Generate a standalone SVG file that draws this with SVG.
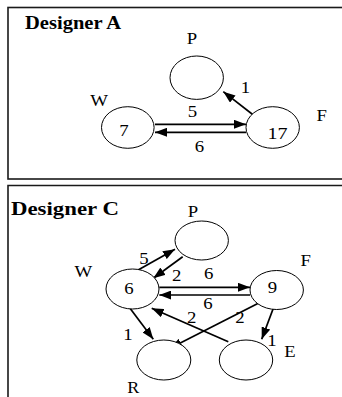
<svg xmlns="http://www.w3.org/2000/svg" width="342" height="397" viewBox="0 0 342 397">
  <style>
    .frame { fill: none; stroke: #1a1a1a; stroke-width: 1.6; }
    .node { fill: #fff; stroke: #000; stroke-width: 1; }
    .edge { stroke: #000; stroke-width: 1.7; fill: none; marker-end: url(#arrow); }
    text { font-family: "Liberation Serif", "Times New Roman", serif; font-size: 17px; fill: #000; text-anchor: middle; }
    .title { font-size: 18.5px; font-weight: bold; text-anchor: start; }
  </style>
  <defs>
    <marker id="arrow" markerUnits="userSpaceOnUse" markerWidth="12" markerHeight="9" refX="12" refY="4.5" orient="auto">
      <path d="M0,0 L12,4.5 L0,9 z" fill="#000"/>
    </marker>
  </defs>

  <rect width="342" height="397" fill="#fff"/>

  <!-- panel frames -->
  <rect class="frame" x="8" y="7.5" width="345" height="171.5"/>
  <path class="frame" d="M8,400 V185.5 H350"/>

  <!-- ===== Designer A ===== -->
  <g id="designerA">
    <text class="title" x="25" y="28.5" textLength="96" lengthAdjust="spacingAndGlyphs">Designer A</text>

    <g id="a-connectors">
      <line class="edge" x1="155" y1="124.3" x2="246" y2="124.3"/>
      <line class="edge" x1="246" y1="132.3" x2="155" y2="132.3"/>
      <line class="edge" x1="253.3" y1="115" x2="223.3" y2="91.7"/>
      <text x="192.5" y="117" textLength="9.4" lengthAdjust="spacingAndGlyphs">5</text>
      <text x="199.5" y="152" textLength="9.4" lengthAdjust="spacingAndGlyphs">6</text>
      <text x="245.5" y="93" textLength="9.4" lengthAdjust="spacingAndGlyphs">1</text>
    </g>

    <g id="a-P">
      <ellipse class="node" cx="196.7" cy="77.7" rx="26.7" ry="21.7"/>
      <text x="192" y="43.5" textLength="10.4" lengthAdjust="spacingAndGlyphs">P</text>
    </g>
    <g id="a-W">
      <ellipse class="node" cx="127.8" cy="127.5" rx="26.3" ry="20.8"/>
      <text x="124" y="135.5" textLength="9.4" lengthAdjust="spacingAndGlyphs">7</text>
      <text x="99" y="105.5" textLength="17.7" lengthAdjust="spacingAndGlyphs">W</text>
    </g>
    <g id="a-F">
      <ellipse class="node" cx="272.7" cy="127.5" rx="26.7" ry="20.8"/>
      <text x="277.5" y="139" textLength="20" lengthAdjust="spacingAndGlyphs">17</text>
      <text x="321.7" y="121" textLength="10.4" lengthAdjust="spacingAndGlyphs">F</text>
    </g>
  </g>

  <!-- ===== Designer C ===== -->
  <g id="designerC">
    <text class="title" x="11" y="214.5" textLength="108" lengthAdjust="spacingAndGlyphs">Designer  C</text>

    <g id="c-connectors">
      <line class="edge" x1="135" y1="271.7" x2="175" y2="249.3"/>
      <line class="edge" x1="182.7" y1="256.7" x2="153.3" y2="278.3"/>
      <line class="edge" x1="159.3" y1="287.3" x2="250" y2="287.3"/>
      <line class="edge" x1="250" y1="295" x2="159.3" y2="295"/>
      <line class="edge" x1="130" y1="308.3" x2="153.3" y2="339.3"/>
      <line class="edge" x1="228.3" y1="341.7" x2="151.7" y2="308.3"/>
      <line class="edge" x1="258.3" y1="303.3" x2="170" y2="348.3"/>
      <line class="edge" x1="273.3" y1="308.3" x2="261.7" y2="339.3"/>
      <text x="144" y="263.5" textLength="9.4" lengthAdjust="spacingAndGlyphs">5</text>
      <text x="176.7" y="280.5" textLength="9.4" lengthAdjust="spacingAndGlyphs">2</text>
      <text x="208.7" y="278.5" textLength="9.4" lengthAdjust="spacingAndGlyphs">6</text>
      <text x="208" y="308.5" textLength="9.4" lengthAdjust="spacingAndGlyphs">6</text>
      <text x="128" y="339.5" textLength="9.4" lengthAdjust="spacingAndGlyphs">1</text>
      <text x="191.7" y="323" textLength="9.4" lengthAdjust="spacingAndGlyphs">2</text>
      <text x="240" y="323" textLength="9.4" lengthAdjust="spacingAndGlyphs">2</text>
      <text x="272" y="345.5" textLength="9.4" lengthAdjust="spacingAndGlyphs">1</text>
    </g>

    <g id="c-P">
      <ellipse class="node" cx="201.7" cy="240.5" rx="26.7" ry="19.5"/>
      <text x="193" y="217" textLength="10.4" lengthAdjust="spacingAndGlyphs">P</text>
    </g>
    <g id="c-W">
      <ellipse class="node" cx="132.5" cy="289" rx="26.5" ry="20"/>
      <text x="129" y="293.5" textLength="9.4" lengthAdjust="spacingAndGlyphs">6</text>
      <text x="83.3" y="277" textLength="17.7" lengthAdjust="spacingAndGlyphs">W</text>
    </g>
    <g id="c-F">
      <ellipse class="node" cx="276.7" cy="290" rx="26.7" ry="19.5"/>
      <text x="272.5" y="293" textLength="9.4" lengthAdjust="spacingAndGlyphs">9</text>
      <text x="305.8" y="265.5" textLength="10.4" lengthAdjust="spacingAndGlyphs">F</text>
    </g>
    <g id="c-R">
      <ellipse class="node" cx="163.8" cy="360" rx="27" ry="20"/>
      <text x="133.3" y="392.5" font-size="16" textLength="12" lengthAdjust="spacingAndGlyphs">R</text>
    </g>
    <g id="c-E">
      <ellipse class="node" cx="246" cy="360" rx="26.7" ry="20"/>
      <text x="290" y="357" textLength="11.4" lengthAdjust="spacingAndGlyphs">E</text>
    </g>
  </g>
</svg>
